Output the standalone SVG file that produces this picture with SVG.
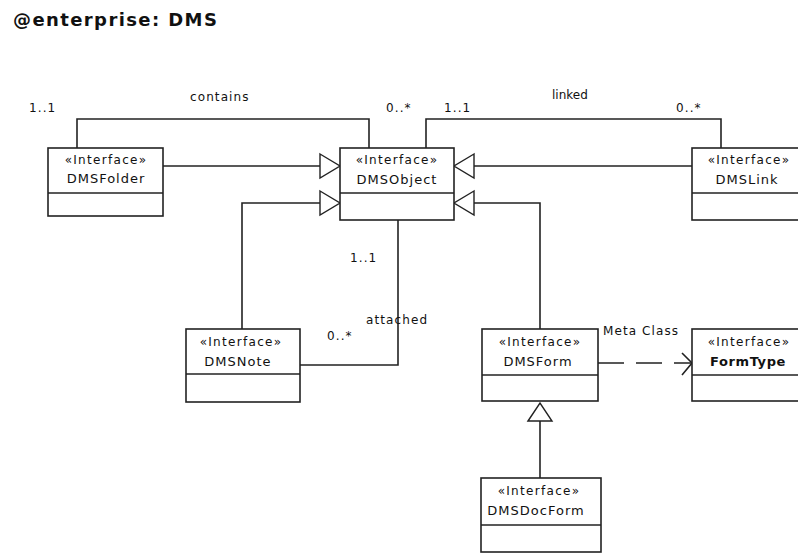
<svg xmlns="http://www.w3.org/2000/svg" width="798" height="554" viewBox="0 0 798 554">
<style>
.box{fill:#fff;stroke:#222;stroke-width:1.6}
.ln{fill:none;stroke:#222;stroke-width:1.6}
.tri{fill:#fff;stroke:#222;stroke-width:1.4}
.st{font-family:"DejaVu Sans",sans-serif;font-size:12px;letter-spacing:1.3px;fill:#111;text-anchor:middle}
.nm{font-family:"DejaVu Sans",sans-serif;font-size:13px;letter-spacing:1px;fill:#111;text-anchor:middle}
.nb{font-family:"DejaVu Sans",sans-serif;font-size:13px;font-weight:bold;letter-spacing:0.6px;fill:#111;text-anchor:middle}
.lb{font-family:"DejaVu Sans",sans-serif;font-size:12px;letter-spacing:1.1px;fill:#111}
.title{font-family:"DejaVu Sans",sans-serif;font-size:18px;font-weight:bold;letter-spacing:1.4px;fill:#111}
</style>
<rect width="798" height="554" fill="#fff"/>
<text class="title" x="13" y="26">@enterprise: DMS</text>

<g id="connectors">
  <polyline class="ln" points="77,148 77,119 369,119 369,148"/>
  <polyline class="ln" points="426,148 426,119 721,119 721,148"/>
  <line class="ln" x1="163" y1="166" x2="320" y2="166"/>
  <polygon class="tri" points="320,154 340,166 320,178"/>
  <line class="ln" x1="692" y1="166" x2="474" y2="166"/>
  <polygon class="tri" points="474,154 454,166 474,178"/>
  <polyline class="ln" points="242,329 242,203 320,203"/>
  <polygon class="tri" points="320,191 340,203 320,215"/>
  <polyline class="ln" points="540,329 540,203 474,203"/>
  <polygon class="tri" points="474,191 454,203 474,215"/>
  <polyline class="ln" points="300,365 398,365 398,220"/>
  <line class="ln" x1="540" y1="478" x2="540" y2="421"/>
  <polygon class="tri" points="528,421 540,403 552,421"/>
  <line class="ln" x1="598" y1="363" x2="691" y2="363" stroke-dasharray="26 12"/>
  <polyline class="ln" points="682,353 692,363 682,375"/>
  <text class="lb" x="29" y="112">1..1</text>
  <text class="lb" x="190" y="101">contains</text>
  <text class="lb" x="386" y="112">0..*</text>
  <text class="lb" x="444" y="112">1..1</text>
  <text class="lb" x="552" y="99" style="letter-spacing:0">linked</text>
  <text class="lb" x="676" y="112">0..*</text>
  <text class="lb" x="350" y="262">1..1</text>
  <text class="lb" x="366" y="324">attached</text>
  <text class="lb" x="327" y="340">0..*</text>
  <text class="lb" x="603" y="335">Meta Class</text>
</g>

<g id="DMSFolder">
  <rect class="box" x="48" y="148" width="115" height="68"/>
  <line class="ln" x1="48" y1="193" x2="163" y2="193"/>
  <text class="st" x="106" y="164">«Interface»</text>
  <text class="nm" x="106" y="183">DMSFolder</text>
</g>
<g id="DMSObject">
  <rect class="box" x="340" y="148" width="114" height="72"/>
  <line class="ln" x1="340" y1="193" x2="454" y2="193"/>
  <text class="st" x="397" y="164">«Interface»</text>
  <text class="nm" x="397" y="184">DMSObject</text>
</g>
<g id="DMSLink">
  <rect class="box" x="692" y="148" width="114" height="72"/>
  <line class="ln" x1="692" y1="193" x2="806" y2="193"/>
  <text class="st" x="749" y="164">«Interface»</text>
  <text class="nm" x="747" y="184">DMSLink</text>
</g>
<g id="DMSNote">
  <rect class="box" x="186" y="329" width="114" height="73"/>
  <line class="ln" x1="186" y1="374" x2="300" y2="374"/>
  <text class="st" x="241" y="346">«Interface»</text>
  <text class="nm" x="238" y="366">DMSNote</text>
</g>
<g id="DMSForm">
  <rect class="box" x="482" y="329" width="116" height="72"/>
  <line class="ln" x1="482" y1="375" x2="598" y2="375"/>
  <text class="st" x="540" y="346">«Interface»</text>
  <text class="nm" x="538" y="366">DMSForm</text>
</g>
<g id="FormType">
  <rect class="box" x="692" y="329" width="114" height="72"/>
  <line class="ln" x1="692" y1="375" x2="806" y2="375"/>
  <text class="st" x="749" y="346">«Interface»</text>
  <text class="nb" x="748" y="366">FormType</text>
</g>
<g id="DMSDocForm">
  <rect class="box" x="481" y="478" width="120" height="74"/>
  <line class="ln" x1="481" y1="525" x2="601" y2="525"/>
  <text class="st" x="539" y="495">«Interface»</text>
  <text class="nm" x="536" y="515">DMSDocForm</text>
</g>
</svg>
